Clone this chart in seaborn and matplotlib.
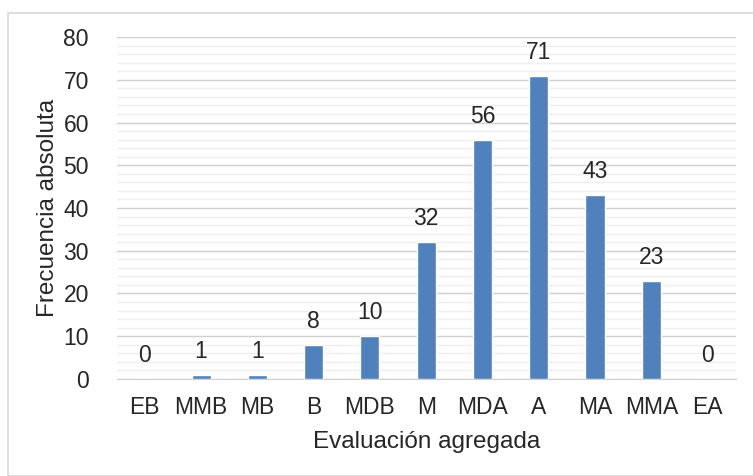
import matplotlib
matplotlib.use('Agg')
import matplotlib.pyplot as plt
import seaborn as sns
import pandas as pd
from matplotlib.patches import Rectangle
from matplotlib.ticker import MultipleLocator

categorias = ['EB', 'MMB', 'MB', 'B', 'MDB', 'M', 'MDA', 'A', 'MA', 'MMA', 'EA']
frecuencias = [0, 1, 1, 8, 10, 32, 56, 71, 43, 23, 0]

df = pd.DataFrame({'cat': categorias, 'freq': frecuencias})

sns.set_style('white')
plt.rcParams['font.family'] = ['Liberation Sans', 'DejaVu Sans']
txt = '#262626'
fs = 16.5

fig = plt.figure(figsize=(7.53, 4.76), dpi=100)
fig.patches.append(Rectangle((8 / 753, 0), 1, 1 - 13 / 476, transform=fig.transFigure,
                             fill=False, edgecolor='#d9d9d9', linewidth=1.2))
ax = fig.add_axes([0.155, 0.204, 0.822, 0.718])

sns.barplot(data=df, x='cat', y='freq', color='#4f81bd', saturation=1, width=0.34, ax=ax, zorder=3)

ax.set_ylim(0, 80)
ax.yaxis.set_major_locator(MultipleLocator(10))
ax.yaxis.set_minor_locator(MultipleLocator(2))
ax.grid(which='major', axis='y', color='#d0d0d0', linewidth=1, zorder=0)
ax.grid(which='minor', axis='y', color='#efefef', linewidth=1, zorder=0)
ax.set_axisbelow(True)
for s in ['top', 'right', 'left']:
    ax.spines[s].set_visible(False)
ax.spines['bottom'].set_color('#d0d0d0')
ax.tick_params(axis='both', which='both', length=0, labelsize=fs, colors=txt)
ax.tick_params(axis='x', pad=12)
ax.tick_params(axis='y', pad=20)

for i, v in enumerate(frecuencias):
    ax.text(i, v + 2.8, str(v), ha='center', va='bottom', fontsize=fs, color=txt)

ax.set_xlabel('Evaluación agregada', fontsize=17.5, color=txt, labelpad=9)
ax.set_ylabel('Frecuencia absoluta', fontsize=17.5, color=txt, labelpad=3)

fig.savefig('out.png', dpi=100)
